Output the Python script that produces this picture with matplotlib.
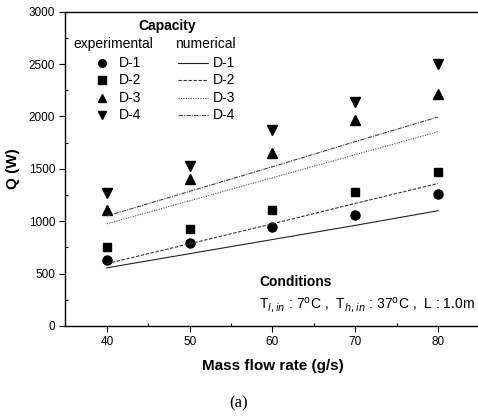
import matplotlib
matplotlib.use("Agg")
import matplotlib.pyplot as plt
from matplotlib.ticker import MultipleLocator
from matplotlib.lines import Line2D

plt.rcParams['font.family'] = ['Liberation Sans', 'DejaVu Sans']

mass_flow = [40, 50, 60, 70, 80]
series = ['D-1', 'D-2', 'D-3', 'D-4']
exp_D1 = [630, 790, 940, 1060, 1260]
exp_D2 = [755, 925, 1110, 1275, 1470]
exp_D3 = [1110, 1400, 1650, 1970, 2210]
exp_D4 = [1270, 1530, 1875, 2140, 2500]
num_D1 = [555, 690, 825, 960, 1100]
num_D2 = [595, 785, 975, 1170, 1360]
num_D3 = [975, 1195, 1415, 1635, 1855]
num_D4 = [1050, 1285, 1520, 1760, 1995]

exp_vals = [exp_D1, exp_D2, exp_D3, exp_D4]
num_vals = [num_D1, num_D2, num_D3, num_D4]
markers = ['o', 's', '^', 'v']
msizes = [6.5, 6, 7, 7]
lstyles = ['-', (0, (3, 1.5)), (0, (1, 1.2)), (0, (4, 1, 1, 1))]
lcolors = ['#222222', '#333333', '#555555', '#444444']

fig = plt.figure(figsize=(4.78, 4.20), dpi=100)
ax = fig.add_axes([0.137, 0.224, 0.866, 0.748])

for v, n, m, ms, ls, c in zip(exp_vals, num_vals, markers, msizes, lstyles, lcolors):
    ax.plot(mass_flow, n, linestyle=ls, color=c, lw=0.8)
    ax.plot(mass_flow, v, linestyle='none', marker=m, ms=ms, color='black')

ax.set_xlim(35, 85)
ax.set_ylim(0, 3000)
ax.xaxis.set_major_locator(MultipleLocator(10))
ax.xaxis.set_minor_locator(MultipleLocator(5))
ax.yaxis.set_major_locator(MultipleLocator(500))
ax.yaxis.set_minor_locator(MultipleLocator(250))
ax.tick_params(which='major', direction='out', length=4, width=0.8, labelsize=8.5)
ax.tick_params(which='minor', direction='in', length=2.5, width=0.8)
ax.spines['right'].set_visible(False)
for s in ['left', 'bottom', 'top']:
    ax.spines[s].set_linewidth(1.0)

ax.set_xlabel('Mass flow rate (g/s)', fontsize=11, fontweight='bold', labelpad=8)
ax.set_ylabel('Q (W)', fontsize=11, fontweight='bold', labelpad=6)

fs = 10
ax.text(0.245, 0.955, 'Capacity', transform=ax.transAxes, fontsize=fs, fontweight='bold', ha='center', va='center')
ax.text(0.02, 0.896, 'experimental', transform=ax.transAxes, fontsize=fs, ha='left', va='center')
ax.text(0.265, 0.896, 'numerical', transform=ax.transAxes, fontsize=fs, ha='left', va='center')
row_y = [0.838, 0.782, 0.727, 0.672]
for name, m, ms, ls, c, yy in zip(series, markers, msizes, lstyles, lcolors, row_y):
    ax.add_line(Line2D([0.088], [yy], transform=ax.transAxes, marker=m, ms=ms*0.85, color='black', linestyle='none'))
    ax.text(0.13, yy, name, transform=ax.transAxes, fontsize=fs, ha='left', va='center')
    ax.add_line(Line2D([0.272, 0.345], [yy, yy], transform=ax.transAxes, linestyle=ls, color=c, lw=0.8))
    ax.text(0.355, yy, name, transform=ax.transAxes, fontsize=fs, ha='left', va='center')

ax.text(0.468, 0.140, 'Conditions', transform=ax.transAxes, fontsize=fs, fontweight='bold', ha='left', va='center')
ax.text(0.468, 0.068,
        r'T$_{l,in}$ : 7$^{\mathrm{o}}$C ,  T$_{h,in}$ : 37$^{\mathrm{o}}$C ,  L : 1.0m',
        transform=ax.transAxes, fontsize=fs, ha='left', va='center')

fig.text(0.5, 0.04, '(a)', fontsize=12, family=['Liberation Serif', 'DejaVu Serif'], ha='center', va='center')

fig.savefig('out.png', dpi=100)
